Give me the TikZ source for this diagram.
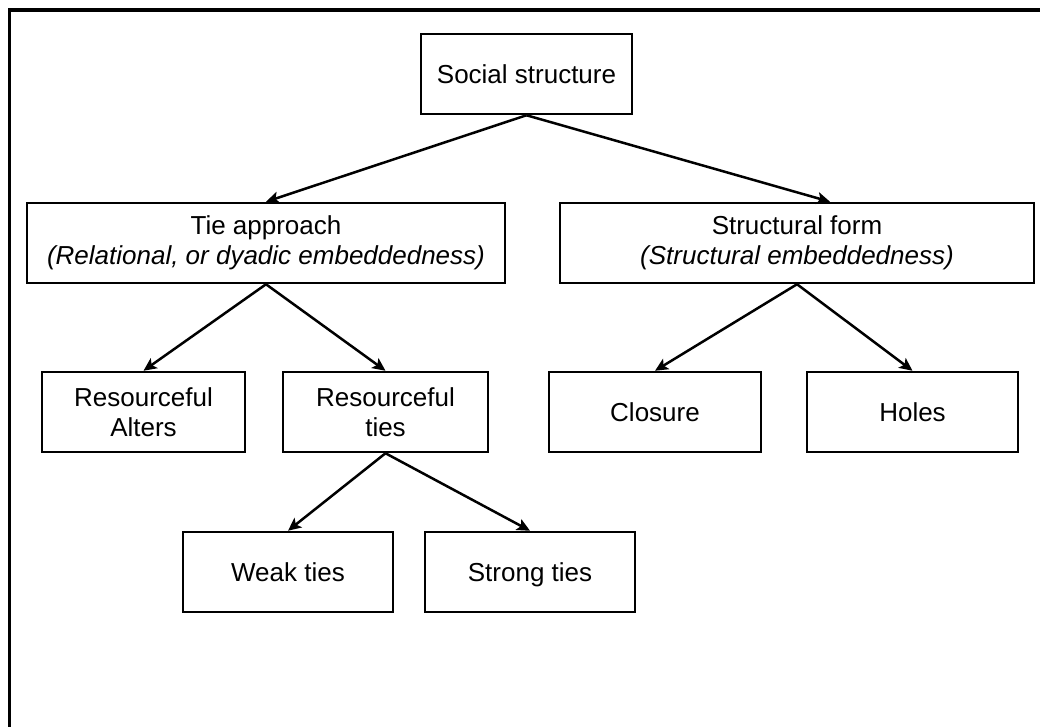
\documentclass[tikz,border=0pt]{standalone}
\usepackage{fontspec}
\setmainfont{Liberation Sans}
\usetikzlibrary{arrows.meta}
\begin{document}
\begin{tikzpicture}[x=1pt,y=-1pt,
  box/.style={draw=black,line width=2.5pt,inner sep=0pt,minimum height=80pt,
    align=center,font=\fontsize{26}{30}\selectfont},
  oneline/.style={box,text height=24pt,text depth=5.4pt},
  link/.style={line width=2.5pt,-{Stealth[length=13pt,width=12pt,inset=3pt]}}]
  \useasboundingbox (0,0) rectangle (1040,727);
  % outer frame, running past the right and bottom edges
  \begin{scope}
    \clip (0,0) rectangle (1040,727);
    \draw[line width=3.2pt] (9.5,10) rectangle (1100,800);
  \end{scope}
  % boxes
  \node[oneline,minimum width=211pt] (soc) at (526.5,74) {Social structure};
  \node[box,minimum width=478pt] (tie) at (266,243)
    {Tie approach\\\textit{(Relational, or dyadic embeddedness)}};
  \node[box,minimum width=474pt] (sf) at (797,243)
    {Structural form\\\textit{(Structural embeddedness)}};
  \node[box,minimum width=203pt] (ra) at (143.5,412) {Resourceful\\Alters};
  \node[box,minimum width=205pt] (rt) at (385.5,412) {Resourceful\\ties};
  \node[oneline,minimum width=212pt] (clo) at (655,412) {Closure};
  \node[oneline,minimum width=211pt] (hol) at (912.5,412) {Holes};
  \node[oneline,minimum width=210pt] (wk) at (288,572) {Weak ties};
  \node[oneline,minimum width=210pt] (st) at (530,572) {Strong ties};
  % connectors
  \draw[link] (soc.south) -- (tie.north);
  \draw[link] (soc.south) -- ([xshift=33pt]sf.north);
  \draw[link] (tie.south) -- (ra.north);
  \draw[link] (tie.south) -- (rt.north);
  \draw[link] (sf.south) -- (clo.north);
  \draw[link] (sf.south) -- (hol.north);
  \draw[link] (rt.south) -- (wk.north);
  \draw[link] (rt.south) -- (st.north);
\end{tikzpicture}
\end{document}
